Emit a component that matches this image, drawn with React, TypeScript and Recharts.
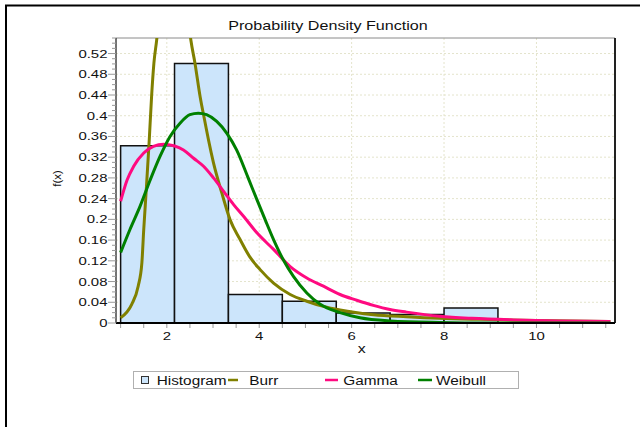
import React from 'react';
import { ComposedChart, Line, XAxis, YAxis, CartesianGrid, ReferenceArea, ReferenceLine } from 'recharts';

// Histogram bins (edges and density heights)
const binEdges = [1, 2.1667, 3.3333, 4.5, 5.6667, 6.8333, 8.0, 9.1667];
const binHeights = [0.342, 0.501, 0.055, 0.042, 0.0195, 0.0165, 0.029];

// Burr fitted density (the peak leaves the plot)
const burrX = [1.0, 1.24, 1.38, 1.46, 1.5, 1.56, 1.62, 1.67, 1.72, 1.78, 1.86, 1.96, 2.1, 2.25, 2.4, 2.52, 2.61, 2.72, 2.83, 2.9, 3.01, 3.19, 3.37, 3.58, 3.8, 4.02, 4.31, 4.67, 5.03, 5.39, 5.75, 6.47, 7.19, 7.91, 8.8, 10.0, 11.6];
const burrY = [0.01, 0.036, 0.071, 0.116, 0.18, 0.264, 0.354, 0.437, 0.501, 0.546, 0.62, 0.7, 0.75, 0.72, 0.64, 0.546, 0.501, 0.437, 0.386, 0.354, 0.309, 0.251, 0.199, 0.162, 0.127, 0.103, 0.077, 0.055, 0.042, 0.032, 0.025, 0.016, 0.012, 0.009, 0.007, 0.005, 0.003];

// Gamma fitted density
const gammaX = [1.0, 1.14, 1.28, 1.5, 1.71, 1.93, 2.15, 2.36, 2.58, 2.8, 3.01, 3.23, 3.45, 3.66, 3.95, 4.31, 4.67, 5.03, 5.39, 5.75, 6.11, 6.47, 6.83, 7.19, 7.91, 8.6, 9.5, 10.5, 11.6];
const gammaY = [0.235, 0.276, 0.302, 0.328, 0.341, 0.345, 0.342, 0.334, 0.318, 0.302, 0.28, 0.254, 0.228, 0.206, 0.174, 0.142, 0.109, 0.087, 0.071, 0.055, 0.044, 0.034, 0.026, 0.021, 0.013, 0.009, 0.006, 0.004, 0.003];

// Weibull fitted density
const weibullX = [1.0, 1.2, 1.42, 1.64, 1.85, 2.07, 2.29, 2.5, 2.68, 2.86, 3.08, 3.3, 3.51, 3.76, 3.95, 4.13, 4.31, 4.52, 4.74, 5.03, 5.32, 5.75, 6.18, 6.83, 7.9, 9.0, 11.6];
const weibullY = [0.136, 0.18, 0.225, 0.276, 0.321, 0.36, 0.386, 0.402, 0.405, 0.402, 0.389, 0.366, 0.334, 0.28, 0.238, 0.199, 0.161, 0.122, 0.09, 0.058, 0.036, 0.02, 0.01, 0.004, 0.001, 0.0, 0.0];

// Axis ticks
const xTickValues = [1, 1.5, 2, 2.5, 3, 3.5, 4, 4.5, 5, 5.5, 6, 6.5, 7, 7.5, 8, 8.5, 9, 9.5, 10, 10.5, 11, 11.5];
const xTickLabels = ['2', '4', '6', '8', '10'];
const yTickLabels = ['0', '0.04', '0.08', '0.12', '0.16', '0.2', '0.24', '0.28', '0.32', '0.36', '0.4', '0.44', '0.48', '0.52'];
const yMinorStep = 0.01;
const yMax = 0.55;

const seriesNames = ['Histogram', 'Burr', 'Gamma', 'Weibull'];

const COLORS = {
  hist: '#cce5fb',
  burr: '#808000',
  gamma: '#ff0a80',
  weibull: '#008000',
};

const FONT = '"Liberation Sans", Arial, Helvetica, sans-serif';

const toPoints = (xs: number[], ys: number[]) => xs.map((x, i) => ({ x, y: ys[i] }));
const burrData = toPoints(burrX, burrY);
const gammaData = toPoints(gammaX, gammaY);
const weibullData = toPoints(weibullX, weibullY);

const yTickValues: number[] = [];
for (let i = 0; i <= Math.round(yMax / yMinorStep); i++) yTickValues.push(Number((i * yMinorStep).toFixed(2)));
const yGridValues = yTickLabels.map(Number).filter((v) => v > 0);
const xGridValues = xTickLabels.map(Number);

const YTick = (props: any) => {
  const { x, y, payload } = props;
  const v = payload.value;
  const label = yTickLabels.find((l) => Math.abs(Number(l) - v) < 1e-6);
  const len = label !== undefined ? 8 : 4;
  return (
    <g>
      <line x1={x - len} x2={x} y1={y} y2={y} stroke="#9a9a9a" strokeWidth={1} />
      {label !== undefined && (
        <text
          transform={`translate(${x - 8.5},${y + 4}) scale(1.3,1)`}
          textAnchor="end"
          fontSize={11.5}
          fontFamily={FONT}
          fill="#111"
        >
          {label}
        </text>
      )}
    </g>
  );
};

const XTick = (props: any) => {
  const { x, y, payload } = props;
  const v = payload.value;
  const label = xTickLabels.find((l) => Number(l) === v);
  return (
    <g>
      <line x1={x} x2={x} y1={y + 1} y2={y + 5} stroke="#9a9a9a" strokeWidth={1} />
      {label !== undefined && (
        <text
          transform={`translate(${x},${y + 17}) scale(1.3,1)`}
          textAnchor="middle"
          fontSize={11.5}
          fontFamily={FONT}
          fill="#111"
        >
          {label}
        </text>
      )}
    </g>
  );
};

const STxt = ({ x, y, size, sx, anchor, children }: any) => (
  <text
    transform={`translate(${x},${y}) scale(${sx},1)`}
    textAnchor={anchor || 'start'}
    fontSize={size}
    fontFamily={FONT}
    fill="#111"
  >
    {children}
  </text>
);

export default function App() {
  return (
    <div
      style={{
        position: 'absolute',
        left: 0,
        top: 0,
        width: 640,
        height: 427,
        overflow: 'hidden',
        background: '#fff',
      }}
    >
      <div style={{ position: 'absolute', left: 0, top: 0 }}>
        <ComposedChart
          width={640}
          height={427}
          margin={{ top: 38, right: 25, bottom: 74, left: 0 }}
        >
          <CartesianGrid
            stroke="#e4e4cc"
            strokeDasharray="2 2"
            horizontalValues={yGridValues}
            verticalValues={xGridValues}
          />
          <XAxis
            dataKey="x"
            type="number"
            domain={[0.9, 11.7]}
            allowDataOverflow
            ticks={xTickValues}
            interval={0}
            tickSize={0}
            tickMargin={0}
            tickLine={false}
            tick={<XTick />}
            height={30}
            axisLine={{ stroke: '#000', strokeWidth: 2 }}
          />
          <YAxis
            type="number"
            domain={[0, yMax]}
            allowDataOverflow
            ticks={yTickValues}
            interval={0}
            tickSize={0}
            tickMargin={0}
            tickLine={false}
            tick={<YTick />}
            width={116}
            axisLine={{ stroke: '#444', strokeWidth: 1.5 }}
          />
          {binHeights.map((h, i) => (
            <ReferenceArea
              key={`bin-${i}`}
              x1={binEdges[i]}
              x2={binEdges[i + 1]}
              y1={0}
              y2={h}
              fill={COLORS.hist}
              fillOpacity={1}
              stroke="#111"
              strokeWidth={1.5}
              ifOverflow="hidden"
            />
          ))}
          <ReferenceLine y={yMax} stroke="#8a8a8a" strokeWidth={1} />
          <ReferenceLine x={11.7} stroke="#222" strokeWidth={2} />
          <Line
            data={burrData}
            dataKey="y"
            type="monotone"
            stroke={COLORS.burr}
            strokeWidth={3}
            dot={false}
            activeDot={false}
            isAnimationActive={false}
            name={seriesNames[1]}
          />
          <Line
            data={gammaData}
            dataKey="y"
            type="monotone"
            stroke={COLORS.gamma}
            strokeWidth={3}
            dot={false}
            activeDot={false}
            isAnimationActive={false}
            name={seriesNames[2]}
          />
          <Line
            data={weibullData}
            dataKey="y"
            type="monotone"
            stroke={COLORS.weibull}
            strokeWidth={3}
            dot={false}
            activeDot={false}
            isAnimationActive={false}
            name={seriesNames[3]}
          />
        </ComposedChart>
      </div>
      <svg
        width={640}
        height={427}
        style={{ position: 'absolute', left: 0, top: 0, pointerEvents: 'none' }}
      >
        <path d="M6,427 V5.5 H640" stroke="#000" strokeWidth={2} fill="none" />
        <STxt x={328} y={30} size={13} sx={1.24} anchor="middle">
          Probability Density Function
        </STxt>
        <text
          transform="translate(61,178.5) rotate(-90)"
          textAnchor="middle"
          fontSize={11.5}
          fontFamily={FONT}
          fill="#111"
        >
          f(x)
        </text>
        <STxt x={361.7} y={353} size={12.5} sx={1.27} anchor="middle">
          x
        </STxt>
        <rect x={133.5} y={371.5} width={385} height={17} fill="#fff" stroke="#b0b0b0" strokeWidth={1} />
        <rect x={141.5} y={376.5} width={7} height={7} fill={COLORS.hist} stroke="#333" strokeWidth={1} />
        <STxt x={156.7} y={384.5} size={12} sx={1.28}>
          {seriesNames[0]}
        </STxt>
        <line x1={228} x2={238} y1={380} y2={380} stroke={COLORS.burr} strokeWidth={2.5} />
        <STxt x={249.3} y={384.5} size={12} sx={1.28}>
          {seriesNames[1]}
        </STxt>
        <line x1={325} x2={338} y1={380} y2={380} stroke={COLORS.gamma} strokeWidth={2.5} />
        <STxt x={343.3} y={384.5} size={12} sx={1.28}>
          {seriesNames[2]}
        </STxt>
        <line x1={418} x2={432} y1={380} y2={380} stroke={COLORS.weibull} strokeWidth={2.5} />
        <STxt x={436} y={384.5} size={12} sx={1.28}>
          {seriesNames[3]}
        </STxt>
      </svg>
    </div>
  );
}
